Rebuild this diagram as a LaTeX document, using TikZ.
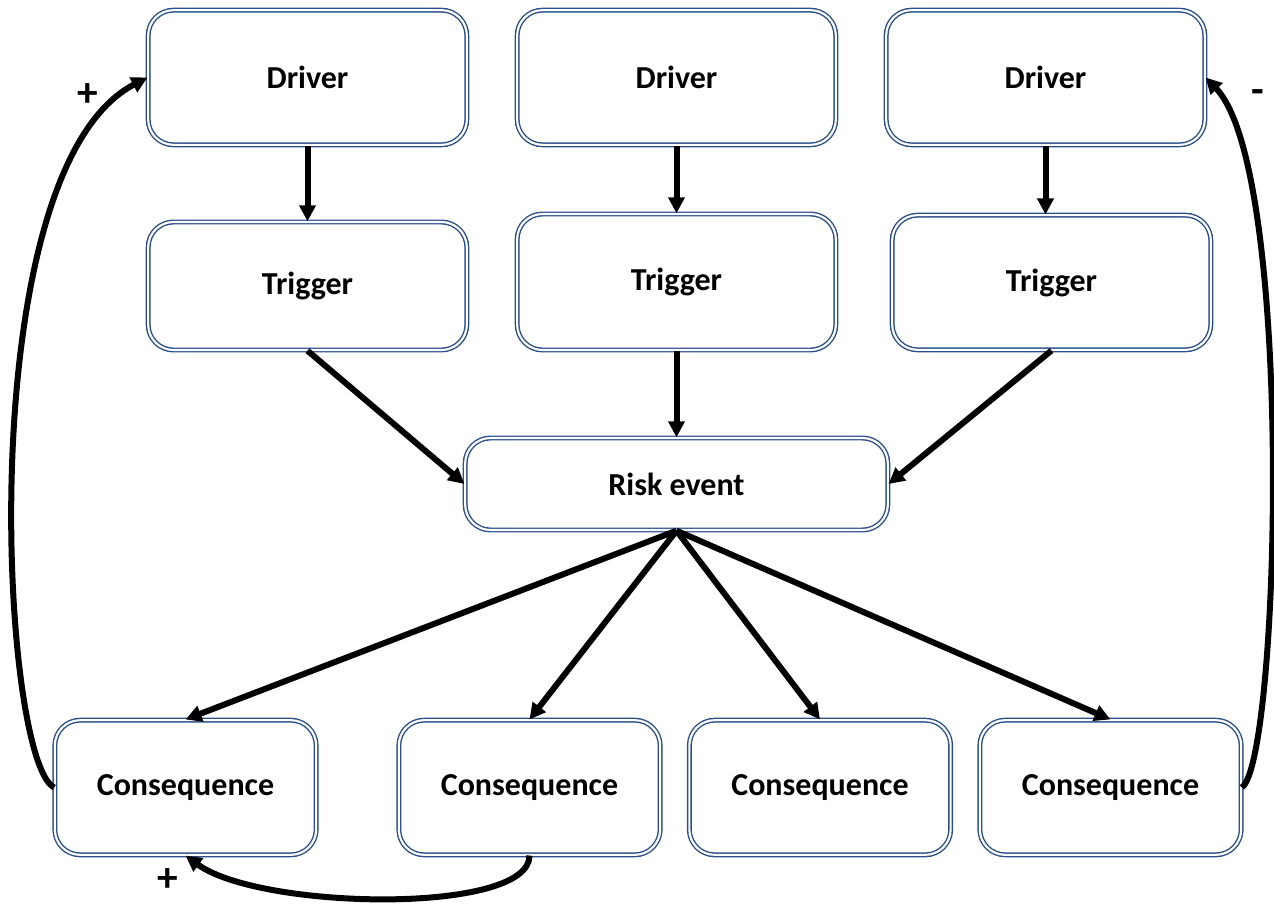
\documentclass[tikz,border=0pt]{standalone}
\usepackage{fontspec}
\setmainfont{Carlito}
\usetikzlibrary{arrows.meta}
\definecolor{RiskBlue}{HTML}{2A4F8A}
\definecolor{RiskInk}{HTML}{000000}
\tikzset{
  riskbox/.style={draw=RiskBlue,double=white,double distance=1.6pt,line width=1.05pt,
    rounded corners=19pt,fill=white,align=center,inner sep=0pt,
    font=\bfseries\fontsize{24}{28}\selectfont},
  flow/.style={-{Triangle[length=12pt,width=12pt]},RiskInk,line width=4.5pt},
  signlabel/.style={font=\bfseries\fontsize{31}{34}\selectfont,inner sep=0pt}
}

\begin{document}
\begin{tikzpicture}[x=0.75pt,y=-0.75pt]
        \useasboundingbox (0,0) rectangle (1274,905);

        % drivers
        \node[riskbox,minimum width=239pt,minimum height=101pt] (drv1) at (307.5,77.5) {Driver};
        \node[riskbox,minimum width=239pt,minimum height=101pt] (drv2) at (676.5,77.5) {Driver};
        \node[riskbox,minimum width=239pt,minimum height=101pt] (drv3) at (1045.5,77.5) {Driver};

        % triggers
        \node[riskbox,minimum width=239pt,minimum height=96pt] (trg1) at (307.5,286) {Trigger};
        \node[riskbox,minimum width=239pt,minimum height=102pt] (trg2) at (676.5,282) {Trigger};
        \node[riskbox,minimum width=239pt,minimum height=101pt] (trg3) at (1051.5,282.5) {Trigger};

        % risk event
        \node[riskbox,minimum width=317pt,minimum height=69pt] (risk) at (676.5,484) {Risk event};

        % consequences
        \node[riskbox,minimum width=196pt,minimum height=101pt] (csq1) at (185.5,787.5) {Consequence};
        \node[riskbox,minimum width=196pt,minimum height=101pt] (csq2) at (529.5,787.5) {Consequence};
        \node[riskbox,minimum width=196pt,minimum height=101pt] (csq3) at (820,787.5) {Consequence};
        \node[riskbox,minimum width=196pt,minimum height=101pt] (csq4) at (1110.5,787.5) {Consequence};

        \draw[flow] (drv1.south) -- (trg1.north);
        \draw[flow] (drv2.south) -- (trg2.north);
        \draw[flow] (drv3.south) -- (drv3.south |- trg3.north);

        \draw[flow] (trg1.south) -- (risk.west);
        \draw[flow] (trg2.south) -- (risk.north);
        \draw[flow] (trg3.south) -- (risk.east);

        \draw[flow] (risk.south) -- (csq1.north);
        \draw[flow] (risk.south) -- (csq2.north);
        \draw[flow] (risk.south) -- (csq3.north);
        \draw[flow] (risk.south) -- (csq4.north);

        % feedback loops
        \draw[flow] (csq1.west) .. controls (0,760) and (-30,170) .. (drv1.west);
        \draw[flow] (csq4.east) .. controls (1280,760) and (1295,170) .. (drv3.east);
        \draw[flow] (csq2.south) .. controls (530,915) and (260,910) .. (csq1.south);

        \node[signlabel] (plusA) at (88,95) {+};
        \node[signlabel] (minusA) at (1258,97) {-};
        \node[signlabel] (plusB) at (168,880) {+};
      \end{tikzpicture}
\end{document}
